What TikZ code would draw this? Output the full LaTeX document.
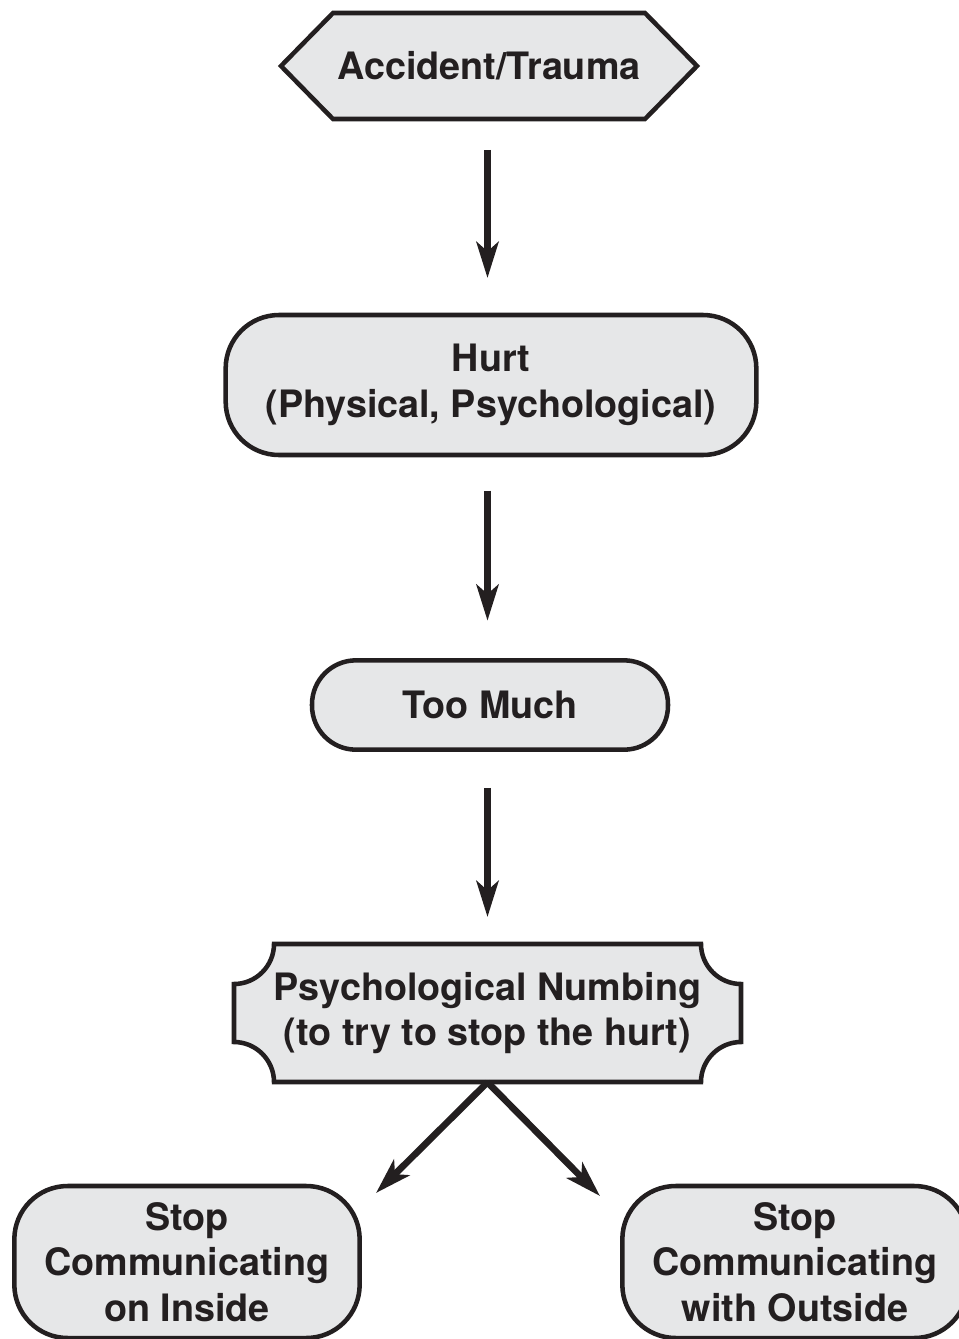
\documentclass[tikz,border=0pt]{standalone}
\usepackage{fontspec}
\setmainfont{TeX Gyre Heros}
\usetikzlibrary{arrows.meta}
\definecolor{boxfill}{HTML}{E6E7E8}
\definecolor{ink}{HTML}{231F20}
\begin{document}
\begin{tikzpicture}[x=0.75pt,y=-0.75pt,
  txt/.style={font=\fontsize{28.3}{34}\selectfont\bfseries, text=ink, align=center, inner sep=0pt},
  outline/.style={draw=ink, fill=boxfill, line width=3.4pt},
  rbox/.style={txt, outline, rectangle},
  flow/.style={draw=ink, line width=5pt, -{Stealth[length=27pt,width=16.5pt,inset=7pt]}}]
\useasboundingbox (0,0) rectangle (959,1339);
\clip (0,0) rectangle (959,1339);

% hexagon: Accident/Trauma
\path[outline] (281,66) -- (333,13) -- (645,13) -- (697,66) -- (645,119) -- (333,119) -- cycle;
\node[txt, minimum width=312pt, minimum height=79.5pt] (acc) at (489,66) {Accident/Trauma};

% rounded box: Hurt
\node[rbox, rounded corners=40pt, minimum width=398pt, minimum height=105pt] (hurt) at (491,385)
  {Hurt\\(Physical, Psychological)};

% pill: Too Much
\node[rbox, rounded corners=33pt, minimum width=267pt, minimum height=67pt] (much) at (490,705) {Too Much};

% plaque with concave corners: Psychological Numbing
\path[outline] (274,944) -- (701,944)
  .. controls (701,966) and (719,984) .. (741,984) -- (741,1042)
  .. controls (719,1042) and (701,1060) .. (701,1082) -- (274,1082)
  .. controls (274,1060) and (256,1042) .. (234,1042) -- (234,984)
  .. controls (256,984) and (274,966) .. (274,944) -- cycle;
\node[txt, minimum width=380pt, minimum height=103.5pt] (psy) at (487.5,1013)
  {Psychological Numbing\\(to try to stop the hurt)};

% outcomes
\node[rbox, rounded corners=40pt, minimum width=259pt, minimum height=114pt] (inside) at (187,1262)
  {Stop\\Communicating\\on Inside};
\node[rbox, rounded corners=40pt, minimum width=259pt, minimum height=114pt] (outside) at (795,1262)
  {Stop\\Communicating\\with Outside};

% connectors (vertical ones share the plaque's axis)
\draw[flow, shorten <=23pt, shorten >=26pt] (acc.south -| psy.south) -- (hurt.north -| psy.south);
\draw[flow, shorten <=25pt, shorten >=28pt] (hurt.south -| psy.south) -- (much.north -| psy.south);
\draw[flow, shorten <=27pt, shorten >=20pt] (much.south -| psy.south) -- (psy.north);
\coordinate (inTip) at (376,1193);
\coordinate (outTip) at (600,1196);
\draw[flow] (psy.south) -- (inTip);
\draw[flow] (psy.south) -- (outTip);
\end{tikzpicture}
\end{document}
